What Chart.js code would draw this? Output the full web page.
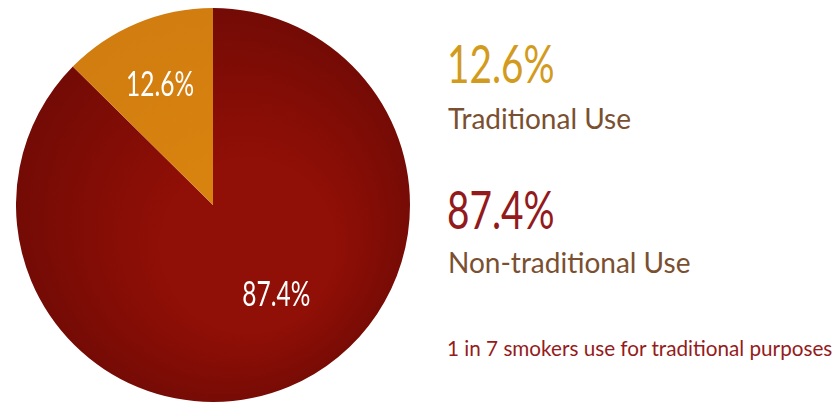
<!DOCTYPE html>
<html>
<head>
<meta charset="utf-8">
<script src="https://cdn.jsdelivr.net/npm/chart.js@4/dist/chart.umd.min.js"></script>
<style>
  html,body{margin:0;padding:0;background:#fff;width:837px;height:402px;overflow:hidden;font-family:Lato,"Open Sans",sans-serif;}
  #wrap{position:absolute;left:16px;top:8px;width:394px;height:394px;}
  .t{position:absolute;white-space:nowrap;line-height:1;}
  .big{font-size:52px;transform:scaleX(0.745);transform-origin:left top;}
  .lbl{font-size:28px;color:#7A5030;}
</style>
</head>
<body>
<div id="wrap"><canvas id="c" width="394" height="394"></canvas></div>
<div class="t big" id="v1" style="left:447px;top:37px;color:#D39B1E;"></div>
<div class="t lbl" id="l1" style="left:448px;top:104px;"></div>
<div class="t big" id="v2" style="left:447px;top:183px;color:#931A1C;"></div>
<div class="t lbl" id="l2" style="left:448px;top:248px;"></div>
<div class="t" id="note" style="left:447px;top:338px;font-size:20.7px;color:#951B20;"></div>
<script>
const categories = ["Non-traditional Use", "Traditional Use"];
const values = [87.4, 12.6];
const valueLabels = ["87.4%", "12.6%"];
const noteText = "1 in 7 smokers use for traditional purposes";

document.getElementById('v1').textContent = valueLabels[1];
document.getElementById('l1').textContent = categories[1];
document.getElementById('v2').textContent = valueLabels[0];
document.getElementById('l2').textContent = categories[0];
document.getElementById('note').textContent = noteText;

const sliceColors = [["#900F06", "#700A05"], ["#D8830F", "#D07C10"]];

function bg(ctx) {
  const chart = ctx.chart;
  const a = chart.chartArea;
  if (!a) return sliceColors[ctx.dataIndex][0];
  const cx = (a.left + a.right) / 2, cy = (a.top + a.bottom) / 2;
  const r = Math.min(a.right - a.left, a.bottom - a.top) / 2;
  const g = chart.ctx.createRadialGradient(cx + r*0.3, cy + r*0.35, 0, cx, cy, r*1.1);
  const c = sliceColors[ctx.dataIndex];
  g.addColorStop(0, c[0]);
  g.addColorStop(0.4, c[0]);
  g.addColorStop(1, c[1]);
  return g;
}

const labelPlugin = {
  id: 'inLabels',
  afterDatasetsDraw(chart, args, opts) {
    const ctx = chart.ctx;
    const meta = chart.getDatasetMeta(0);
    meta.data.forEach((arc, i) => {
      const p = arc.getProps(['x','y','startAngle','endAngle','outerRadius'], true);
      const ang = (p.startAngle + p.endAngle) / 2 + opts.angleShift[i];
      const d = p.outerRadius * opts.radial[i];
      const x = p.x + Math.cos(ang) * d, y = p.y + Math.sin(ang) * d;
      ctx.save();
      ctx.translate(x, y);
      ctx.scale(0.72, 1);
      ctx.font = '34px Lato, sans-serif';
      ctx.fillStyle = '#ffffff';
      ctx.textAlign = 'center';
      ctx.textBaseline = 'middle';
      ctx.fillText(valueLabels[i], 0, 0);
      ctx.restore();
    });
  }
};

new Chart(document.getElementById('c'), {
  type: 'pie',
  data: {
    labels: categories,
    datasets: [{ data: values, backgroundColor: bg, borderWidth: 0, hoverOffset: 0 }]
  },
  options: {
    responsive: false,
    animation: false,
    devicePixelRatio: 1,
    layout: { padding: 0 },
    plugins: {
      legend: { display: false },
      tooltip: { enabled: false },
      inLabels: { radial: [0.56, 0.665], angleShift: [-0.215, -0.02] }
    }
  },
  plugins: [labelPlugin]
});
</script>
</body>
</html>
